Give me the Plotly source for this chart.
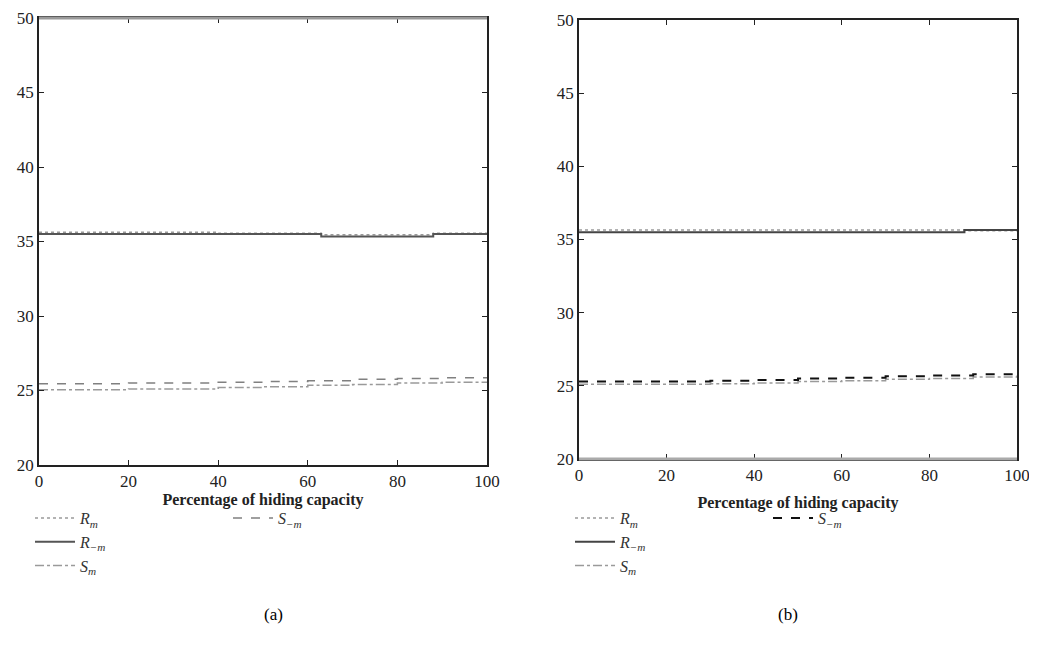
import plotly.graph_objects as go

# ---------------- data ----------------
# Panel (a)
a_rm_x = [0, 40, 63, 88, 100]
a_rm_y = [35.62, 35.55, 35.45, 35.55, 35.55]
a_rnm_x = [0, 63, 88, 100]
a_rnm_y = [35.5, 35.33, 35.5, 35.5]
a_s_x = [0, 10, 20, 30, 40, 50, 60, 70, 80, 90, 100]
a_sm_y = [25.05, 25.05, 25.1, 25.1, 25.2, 25.25, 25.35, 25.4, 25.5, 25.55, 25.6]
a_snm_y = [25.45, 25.45, 25.5, 25.5, 25.55, 25.6, 25.65, 25.75, 25.8, 25.85, 25.9]

# Panel (b)
b_rm_x = [0, 88, 100]
b_rm_y = [35.65, 35.6, 35.7]
b_rnm_x = [0, 88, 100]
b_rnm_y = [35.5, 35.65, 35.65]
b_s_x = [0, 10, 20, 30, 40, 50, 60, 70, 80, 90, 100]
b_sm_y = [25.1, 25.1, 25.1, 25.15, 25.2, 25.3, 25.35, 25.45, 25.5, 25.6, 25.7]
b_snm_y = [25.3, 25.3, 25.3, 25.35, 25.4, 25.5, 25.55, 25.65, 25.7, 25.8, 25.95]

x_ticks = [0, 20, 40, 60, 80, 100]
y_ticks = [20, 25, 30, 35, 40, 45, 50]
x_title = "<b>Percentage of hiding capacity</b>"
names = ["<i>R<sub>m</sub></i>", "<i>R<sub>\u2212m</sub></i>",
         "<i>S<sub>m</sub></i>", "<i>S<sub>\u2212m</sub></i>"]

SERIF = "Liberation Serif, Times New Roman, serif"

fig = go.Figure()

# ---------- panel (a) traces ----------
fig.add_trace(go.Scatter(x=a_rm_x, y=a_rm_y, mode="lines", line_shape="hv", name=names[0],
                         line=dict(color="#9a9a9a", width=1.5, dash="dot"),
                         xaxis="x", yaxis="y", legend="legend"))
fig.add_trace(go.Scatter(x=a_rnm_x, y=a_rnm_y, mode="lines", line_shape="hv", name=names[1],
                         line=dict(color="#555555", width=2),
                         xaxis="x", yaxis="y", legend="legend"))
fig.add_trace(go.Scatter(x=a_s_x, y=a_sm_y, mode="lines", line_shape="hv", name=names[2],
                         line=dict(color="#9a9a9a", width=1.5, dash="dashdot"),
                         xaxis="x", yaxis="y", legend="legend"))
fig.add_trace(go.Scatter(x=a_s_x, y=a_snm_y, mode="lines", line_shape="hv", name=names[3],
                         line=dict(color="#808080", width=1.5, dash="dash"),
                         xaxis="x", yaxis="y", legend="legend2"))

# ---------- panel (b) traces ----------
fig.add_trace(go.Scatter(x=b_rm_x, y=b_rm_y, mode="lines", line_shape="hv", name=names[0],
                         line=dict(color="#9a9a9a", width=1.5, dash="dot"),
                         xaxis="x2", yaxis="y2", legend="legend3"))
fig.add_trace(go.Scatter(x=b_rnm_x, y=b_rnm_y, mode="lines", line_shape="hv", name=names[1],
                         line=dict(color="#444444", width=2),
                         xaxis="x2", yaxis="y2", legend="legend3"))
fig.add_trace(go.Scatter(x=b_s_x, y=b_sm_y, mode="lines", line_shape="hv", name=names[2],
                         line=dict(color="#9a9a9a", width=1.5, dash="dashdot"),
                         xaxis="x2", yaxis="y2", legend="legend3"))
fig.add_trace(go.Scatter(x=b_s_x, y=b_snm_y, mode="lines", line_shape="hv", name=names[3],
                         line=dict(color="#111111", width=2, dash="dash"),
                         xaxis="x2", yaxis="y2", legend="legend4"))

# page body margin offsets the figure by 8px; size the figure to reach the window edge
OFF = 8
W, H = 1037 - OFF, 645 - OFF


def px_x(p):
    return (p - OFF) / W


def px_y(p):
    return 1 - (p - OFF) / H


axis_common = dict(showgrid=False, zeroline=False, showline=True, linecolor="#222",
                   linewidth=1.5, mirror="ticks", ticks="inside", ticklen=5,
                   tickcolor="#222", ticklabeloverflow="allow",
                   tickfont=dict(family=SERIF, size=17, color="#222"))

legend_font = dict(family=SERIF, size=16, color="#333")

fig.update_layout(
    width=W, height=H,
    margin=dict(l=0, r=0, t=0, b=0, autoexpand=False),
    paper_bgcolor="white", plot_bgcolor="white",
    showlegend=True,
    xaxis=dict(domain=[px_x(39), px_x(487)], range=[0, 100], tickvals=x_ticks,
               anchor="y", title=dict(text=x_title, standoff=4,
                                      font=dict(family=SERIF, size=16, color="#222")),
               **axis_common),
    yaxis=dict(domain=[px_y(465), px_y(18)], range=[20, 50], tickvals=y_ticks,
               anchor="x", **axis_common),
    xaxis2=dict(domain=[px_x(579), px_x(1017)], range=[0, 100], tickvals=x_ticks,
                anchor="y2", title=dict(text=x_title, standoff=13,
                                        font=dict(family=SERIF, size=16, color="#222")),
                **axis_common),
    yaxis2=dict(domain=[px_y(459), px_y(20)], range=[20, 50], tickvals=y_ticks,
                anchor="x2", **axis_common),
    legend=dict(x=px_x(30), y=px_y(501), xanchor="left", yanchor="top",
                font=legend_font, bgcolor="rgba(0,0,0,0)",
                tracegroupgap=0, itemwidth=40),
    legend2=dict(x=px_x(228), y=px_y(501), xanchor="left", yanchor="top",
                 font=legend_font, bgcolor="rgba(0,0,0,0)", itemwidth=40),
    legend3=dict(x=px_x(570), y=px_y(501), xanchor="left", yanchor="top",
                 font=legend_font, bgcolor="rgba(0,0,0,0)",
                 tracegroupgap=0, itemwidth=40),
    legend4=dict(x=px_x(768), y=px_y(501), xanchor="left", yanchor="top",
                 font=legend_font, bgcolor="rgba(0,0,0,0)", itemwidth=40),
    shapes=[
        dict(type="line", xref="x domain", yref="y domain", x0=0, x1=1, y0=1, y1=1,
             line=dict(color="#9a9a9a", width=3)),
        dict(type="line", xref="x2 domain", yref="y2 domain", x0=0, x1=1, y0=0, y1=0,
             line=dict(color="#aaaaaa", width=3)),
    ],
    annotations=[
        dict(text="(a)", x=px_x(262), y=px_y(626), xref="paper", yref="paper",
             showarrow=False, font=dict(family=SERIF, size=17, color="#000")),
        dict(text="(b)", x=px_x(800), y=px_y(626), xref="paper", yref="paper",
             showarrow=False, font=dict(family=SERIF, size=17, color="#000")),
    ],
)

fig.write_html("out.html")
